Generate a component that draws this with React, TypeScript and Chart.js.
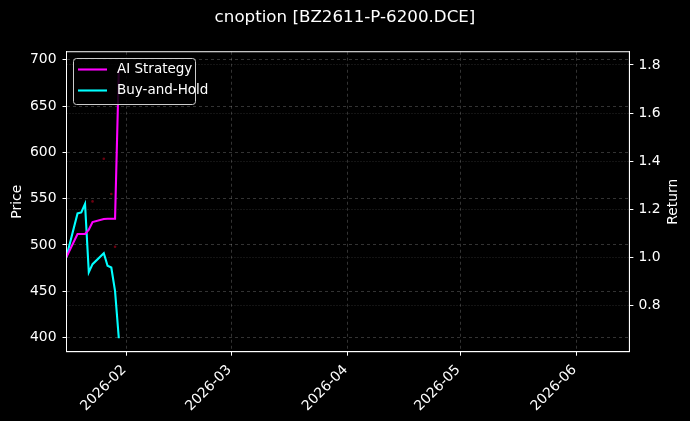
import React, { useEffect, useRef } from "react";
import { Chart, registerables } from "chart.js";

Chart.register(...registerables);

// trading days shown in the chart
const dates = [
  "2026-01-16",
  "2026-01-19",
  "2026-01-20",
  "2026-01-21",
  "2026-01-22",
  "2026-01-23",
  "2026-01-26",
  "2026-01-27",
  "2026-01-28",
  "2026-01-29",
  "2026-01-30",
];
const aiStrategy = [1.0, 1.0975, 1.0975, 1.0975, 1.115, 1.147, 1.16, 1.161, 1.161, 1.161, 1.78];
const buyAndHold = [1.0, 1.183, 1.187, 1.222, 0.938, 0.972, 1.017, 0.965, 0.958, 0.86, 0.664];

// faint trade markers on the price axis
const markerDates = ["2026-01-23", "2026-01-26", "2026-01-28", "2026-01-29"];
const markerPrices = [547, 593, 555, 498];

const monthTickDates = ["2026-02-01", "2026-03-01", "2026-04-01", "2026-05-01", "2026-06-01"];
const monthTickLabels = ["2026-02", "2026-03", "2026-04", "2026-05", "2026-06"];
const priceTicks = [400, 450, 500, 550, 600, 650, 700];
const returnTicks = [0.8, 1.0, 1.2, 1.4, 1.6, 1.8];

const TITLE = "cnoption [BZ2611-P-6200.DCE]";
const FONT = "'DejaVu Sans', sans-serif";
const TICK_SIZE = 13.9;

// days since 2026-01-01
const toDay = (d: string) => (Date.parse(d + "T00:00:00Z") - Date.UTC(2026, 0, 1)) / 86400000;

const frame = {
  id: "frame",
  afterDatasetsDraw(chart: any) {
    const { ctx, chartArea: a } = chart;
    ctx.save();
    ctx.strokeStyle = "#ffffff";
    ctx.lineWidth = 1;
    ctx.strokeRect(a.left, a.top, a.right - a.left, a.bottom - a.top);

    // legend
    const lx = 73.5, ly = 58.5, lw = 122, lh = 46;
    ctx.fillStyle = "rgba(0,0,0,0.85)";
    ctx.strokeStyle = "#cccccc";
    ctx.beginPath();
    ctx.roundRect(lx, ly, lw, lh, 3);
    ctx.fill();
    ctx.stroke();
    const items = [
      { label: "AI Strategy", color: "#ff00ff", y: 69.5 },
      { label: "Buy-and-Hold", color: "#00ffff", y: 90.5 },
    ];
    ctx.font = `13.5px ${FONT}`;
    ctx.textBaseline = "middle";
    ctx.textAlign = "left";
    for (const it of items) {
      ctx.strokeStyle = it.color;
      ctx.lineWidth = 2.1;
      ctx.beginPath();
      ctx.moveTo(78, it.y);
      ctx.lineTo(107, it.y);
      ctx.stroke();
      ctx.fillStyle = "#ffffff";
      ctx.fillText(it.label, 117, it.y);
    }
    ctx.restore();

    // rotated date labels under the x axis
    const xs = chart.scales.x;
    ctx.save();
    ctx.fillStyle = "#ffffff";
    ctx.font = `${TICK_SIZE}px ${FONT}`;
    ctx.textAlign = "right";
    ctx.textBaseline = "alphabetic";
    monthTickDates.forEach((d, i) => {
      const px = xs.getPixelForValue(toDay(d));
      ctx.save();
      ctx.translate(px + 0.5, a.bottom + 18.5);
      ctx.rotate(-Math.PI / 4);
      ctx.fillText(monthTickLabels[i], 0, 0);
      ctx.restore();
    });
    ctx.restore();

    // right axis title, reading upwards
    ctx.save();
    ctx.fillStyle = "#ffffff";
    ctx.translate(673, (a.top + a.bottom) / 2);
    ctx.rotate(-Math.PI / 2);
    ctx.textAlign = "center";
    ctx.textBaseline = "middle";
    ctx.font = `${TICK_SIZE}px ${FONT}`;
    ctx.fillText("Return", 0, 0);
    ctx.restore();
  },
};

const App: React.FC = () => {
  const canvasRef = useRef<HTMLCanvasElement | null>(null);

  useEffect(() => {
    if (!canvasRef.current) return;
    document.body.style.margin = "0";
    document.body.style.background = "#000";

    const days = dates.map(toDay);
    const gridColor = "rgba(255,255,255,0.2)";
    const tickFont = { family: FONT, size: TICK_SIZE };

    const chart = new Chart(canvasRef.current, {
      type: "line",
      data: {
        datasets: [
          {
            label: "AI Strategy",
            data: days.map((x, i) => ({ x, y: aiStrategy[i] })),
            borderColor: "#ff00ff",
            borderWidth: 2.1,
            pointRadius: 0,
            yAxisID: "y1",
          },
          {
            label: "Buy-and-Hold",
            data: days.map((x, i) => ({ x, y: buyAndHold[i] })),
            borderColor: "#00ffff",
            borderWidth: 2.1,
            pointRadius: 0,
            yAxisID: "y1",
          },
          {
            type: "scatter",
            label: "signals",
            data: markerDates.map((d, i) => ({ x: toDay(d), y: markerPrices[i] })),
            backgroundColor: "rgba(130,0,20,0.85)",
            borderWidth: 0,
            pointRadius: 1.3,
            yAxisID: "y",
          } as any,
        ],
      },
      options: {
        animation: false,
        responsive: false,
        layout: { padding: 0 },
        plugins: {
          legend: { display: false },
          tooltip: { enabled: false },
          title: {
            display: true,
            text: TITLE,
            color: "#ffffff",
            font: { family: FONT, size: 16.7, weight: "normal" },
            padding: { top: 8, bottom: 23.7 },
          },
        },
        scales: {
          x: {
            type: "linear",
            min: 15.06,
            max: 165.07,
            afterBuildTicks: (s: any) => {
              s.ticks = monthTickDates.map((d) => ({ value: toDay(d) }));
            },
            afterFit: (s: any) => {
              s.height = 69.3;
            },
            // labels are drawn by the frame plugin
            ticks: { display: false },
            grid: { color: gridColor, tickColor: "#ffffff", tickLength: 4 },
            border: { color: "#ffffff", dash: [3, 3] },
          },
          y: {
            type: "linear",
            position: "left",
            min: 384.7,
            max: 708.6,
            afterBuildTicks: (s: any) => {
              s.ticks = priceTicks.map((v) => ({ value: v }));
            },
            afterFit: (s: any) => {
              s.width = 66.5;
            },
            ticks: { color: "#ffffff", font: tickFont, padding: 6 },
            title: {
              display: true,
              text: "Price",
              color: "#ffffff",
              font: tickFont,
              padding: { top: 9, bottom: 0 },
            },
            grid: { color: gridColor, tickColor: "#ffffff", tickLength: 4 },
            border: { color: "#ffffff", dash: [3, 3] },
          },
          y1: {
            type: "linear",
            position: "right",
            min: 0.608,
            max: 1.855,
            afterBuildTicks: (s: any) => {
              s.ticks = returnTicks.map((v) => ({ value: v }));
            },
            afterFit: (s: any) => {
              s.width = 60.6;
            },
            ticks: {
              color: "#ffffff",
              font: tickFont,
              padding: 5,
              callback: (v: any) => Number(v).toFixed(1),
            },
            grid: { color: "rgba(255,255,255,0.16)", tickColor: "#ffffff", tickLength: 4 },
            border: { color: "#ffffff", dash: [1, 2] },
          },
        },
      },
      plugins: [frame],
    });

    return () => {
      chart.destroy();
    };
  }, []);

  return (
    <div style={{ width: 690, height: 421, background: "#000" }}>
      <canvas ref={canvasRef} width={690} height={421} />
    </div>
  );
};

export default App;
